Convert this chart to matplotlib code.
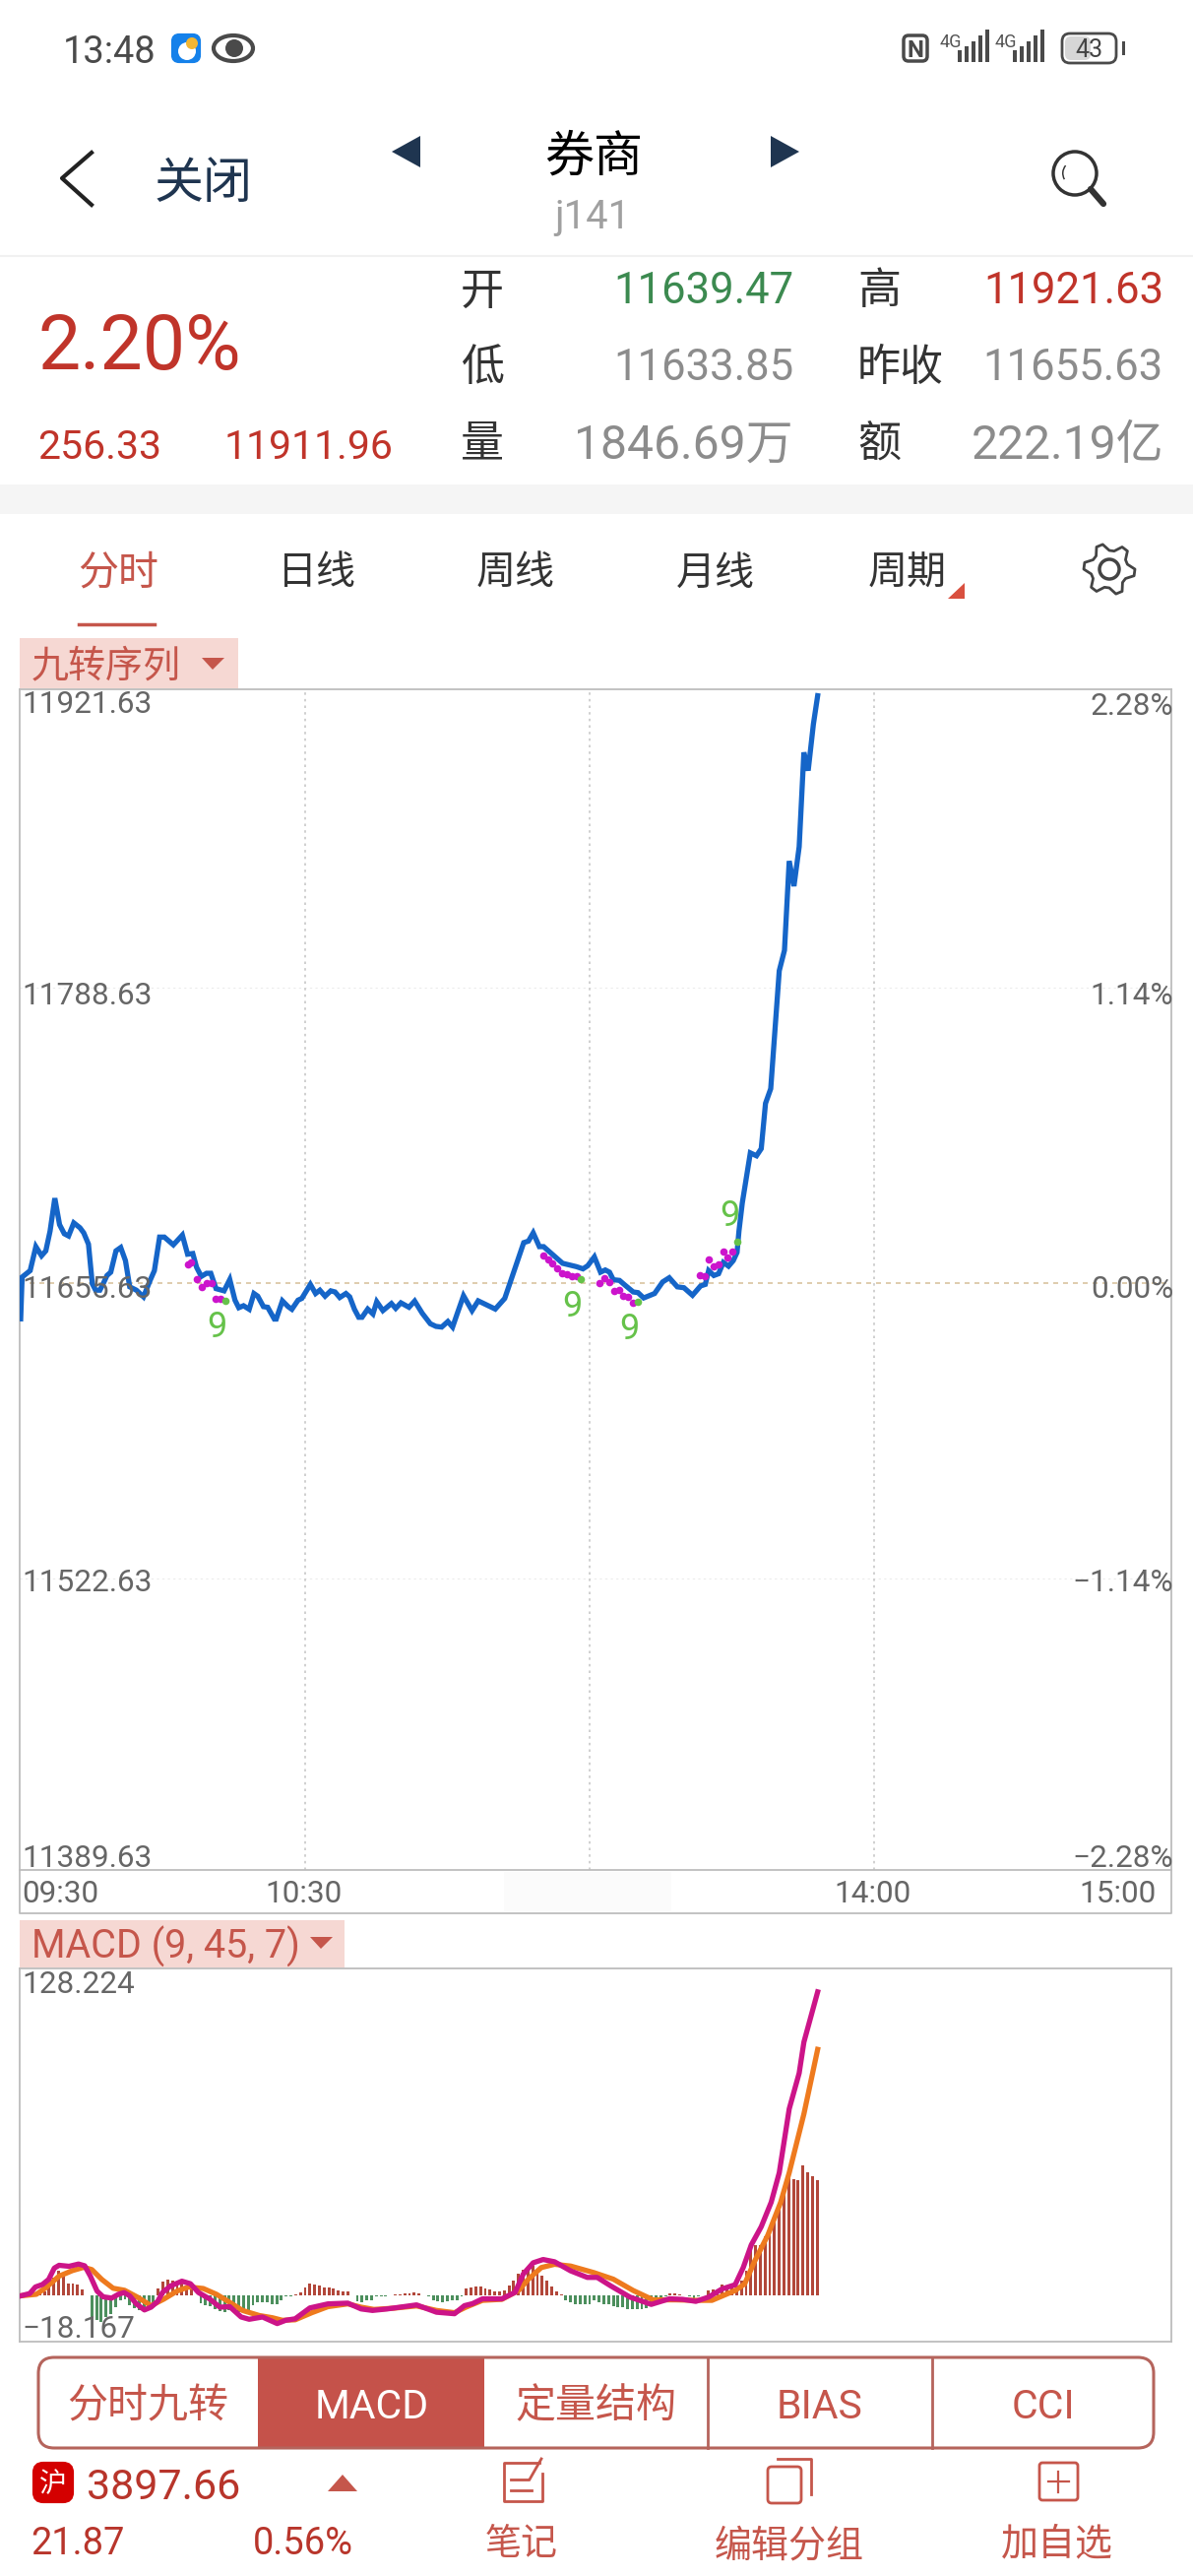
#!/bin/python
import numpy as np
import matplotlib
matplotlib.use("Agg")
import matplotlib.pyplot as plt
from matplotlib.patches import Rectangle, FancyBboxPatch, Polygon, Circle, Wedge, Ellipse

plt.rcParams["font.family"] = ["Roboto", "Noto Sans CJK SC", "DejaVu Sans"]

W, H = 1212, 2616

# minutes since the 09:30 open (trading time, lunch removed)
price_minutes = [0, 0.3, 2, 3.2, 4.4, 5.3, 6.2, 7.2, 8.2, 9.2, 10.1, 11.2, 12.5, 13.3, 14.3, 15.1, 15.8, 16.7, 17.4, 18.2,
	19, 20.1, 21.1, 22.1, 23, 24.4, 25.9, 27.3, 28.2, 29.3, 30.3, 32.2, 34.1, 35.2, 36.3, 37.1, 38.1, 39.2, 40.1, 41.2,
	42.9, 44.1, 45.2, 46, 47, 48.2, 49.2, 50, 51.2, 52.1, 53.5, 53.9, 55.2, 56.4, 57.2, 58.5, 59.3, 61.1, 62.2, 63.1,
	64.2, 65.4, 66.3, 67.3, 68.6, 69.4, 70.4, 71.3, 72, 73.2, 74.3, 75.1, 76.4, 78.2, 79.1, 80.2, 81.9, 83.1, 84.7, 86.4,
	87.6, 88.8, 90.1, 91.1, 92.1, 93.4, 95.2, 96.5, 100.1, 102.1, 106.1, 107.1, 108.1, 109.4, 110.3, 114.3, 117.2, 118.6, 119.6, 121,
	122.3, 123.3, 124.2, 125, 126.3, 127.5, 129.2, 130.2, 131.4, 133.7, 135.4, 136.8, 138.5, 139.9, 141.7, 143.4, 144.4, 145.1, 146.2, 147.2,
	148.2, 149.3, 150.3, 151.1, 151.5, 152.2, 153.9, 155.2, 156.2, 157.1, 158.2, 160, 161.1, 162.1, 163.1, 164.2, 165.2, 166.1, 167.2, 168.1]
price_values = [11639.5, 11658.3, 11661.2, 11672.0, 11667.9, 11670.1, 11679.0, 11693.8, 11681.9, 11677.8, 11676.8, 11682.7, 11680.5, 11678.2, 11673.1, 11655.3, 11652.4, 11652.4, 11655.3, 11659.0,
	11660.5, 11670.1, 11671.6, 11665.7, 11653.9, 11652.4, 11649.4, 11656.8, 11661.2, 11676.3, 11676.3, 11672.8, 11677.2, 11668.6, 11668.9, 11662.7, 11658.6, 11660.0, 11660.0, 11653.1,
	11652.1, 11657.2, 11647.9, 11644.5, 11645.4, 11643.8, 11650.9, 11649.7, 11645.0, 11644.7, 11639.4, 11639.4, 11647.6, 11645.0, 11643.8, 11647.9, 11648.7, 11655.0, 11650.9, 11652.4,
	11649.7, 11652.1, 11651.6, 11649.1, 11650.9, 11649.4, 11643.8, 11640.2, 11640.2, 11643.9, 11641.7, 11647.2, 11643.2, 11646.4, 11644.2, 11646.7, 11644.7, 11647.5, 11642.0, 11637.3,
	11636.1, 11635.8, 11638.3, 11635.8, 11642.0, 11649.9, 11643.2, 11647.6, 11643.9, 11648.7, 11673.8, 11674.5, 11678.2, 11672.0, 11672.0, 11664.5, 11663.0, 11662.0, 11663.4, 11667.4,
	11660.5, 11661.5, 11660.5, 11657.1, 11656.8, 11654.6, 11651.6, 11651.3, 11648.9, 11650.9, 11656.1, 11658.0, 11653.9, 11653.5, 11650.1, 11654.3, 11655.0, 11661.2, 11659.0, 11659.8,
	11664.9, 11663.2, 11665.7, 11669.4, 11679.0, 11691.6, 11714.2, 11712.9, 11716.1, 11736.5, 11743.1, 11796.2, 11805.4, 11845.6, 11834.3, 11852.0, 11894.5, 11886.3, 11907.2, 11920.0]

# nine-turn markers
dot_minutes = [35.2, 36, 37.1, 38.2, 39.2, 40.2, 41.2, 42.2,
	110.2, 111.2, 112.2, 113.2, 114.1, 115.2, 116.2, 117.2,
	122.1, 123.2, 124.1, 125.1, 126.2, 127.1, 128.2, 129.1,
	143.2, 144.2, 145.1, 146.2, 147.2, 148.2, 149.1, 150.2]
dot_values = [11663.8, 11664.9, 11657.3, 11653.9, 11655.8, 11655.8, 11648.7, 11648.4,
	11668.2, 11666.4, 11664.6, 11662.4, 11660.0, 11659.8, 11658.9, 11658.9,
	11655.6, 11657.8, 11656.2, 11652.1, 11652.4, 11649.9, 11649.4, 11646.9,
	11659.2, 11658.9, 11666.1, 11663.0, 11663.9, 11669.9, 11667.2, 11669.9]
nine_dot_minutes = [43.1, 118.2, 130.2, 151.1]
nine_dot_values = [11647.5, 11657.4, 11647.2, 11674.4]
nine_label_minutes = [41.4, 116.3, 128.4, 149.5]
nine_label_values = [11635.7, 11645.0, 11634.9, 11685.9]

prev_close = 11655.63
price_levels = [11921.63, 11788.63, 11655.63, 11522.63, 11389.63]
price_labels = ["11921.63", "11788.63", "11655.63", "11522.63", "11389.63"]
pct_labels = ["2.28%", "1.14%", "0.00%", "−1.14%", "−2.28%"]
time_ticks = [60, 120, 180]

diff_minutes = [0, 1.9, 3.1, 4.6, 5.9, 7.1, 8.1, 10.2, 12.2, 13.5, 14.7, 16.1, 17.4, 19.2, 20.6, 21.8, 23, 24.4, 26.1, 27.5,
	28.9, 29.9, 31.6, 34, 35.8, 37.5, 39.9, 42, 44.1, 46.5, 48.2, 51, 54.1, 55.9, 57.9, 61, 64.8, 69, 71.8, 74.2,
	77.3, 80.8, 83.5, 87.7, 91.5, 93.6, 95.3, 97.4, 101.5, 104.3, 106, 108.1, 110.2, 112.6, 116, 119.5, 121.6, 124.4, 128.5, 133,
	136.8, 139.6, 142.4, 145.1, 147.9, 150.7, 152.4, 154.1, 156.2, 158.3, 160, 162.1, 164.2, 165.2, 168.1]
diff_values = [0, 0.9, 3.5, 4.5, 6.5, 11.0, 12.1, 11.7, 12.6, 11.9, 7.8, 1.9, -0.4, -0.9, 0.6, 1.3, 0, -3.2, -5.6, -4.5,
	-2.2, 1.3, 3.9, 5.8, 4.8, 1.3, -1.3, -4.5, -4.3, -8.4, -9.3, -8.4, -11.0, -9.7, -9.1, -4.8, -3.2, -2.9, -5.2, -5.8,
	-5.2, -4.3, -3.6, -6.5, -7.1, -3.9, -3.1, -1.2, -1.2, 1.4, 8.6, 13.1, 14.4, 13.5, 9.9, 7.3, 7.3, 4.0, -0.5, -3.4,
	-1.2, -1.4, -2.2, -0.5, 2.7, 4.4, 11.2, 20.2, 27.4, 37.1, 48.8, 74.1, 88.3, 100.6, 120.5]

dea_minutes = [0, 3.3, 5.3, 8.1, 10.9, 13.3, 15, 17.1, 19.5, 21.9, 24.7, 27.5, 30.2, 33, 35.4, 38.5, 41.3, 44.1, 46.8, 50.3,
	53.1, 55.2, 57.9, 61.4, 64.8, 69, 71.8, 74.5, 78.7, 83.5, 87.7, 91.5, 93.9, 97.4, 101.5, 105, 107.1, 109.8, 112.6, 116,
	120.9, 125, 129.2, 133.4, 138.2, 142.4, 145.8, 150.7, 152.7, 154.8, 157.6, 160.3, 162.1, 165.2, 168.1]
dea_values = [0, 0.6, 3.2, 7.8, 10.0, 11.3, 10.4, 6.5, 3.0, 2.2, -0.6, -3.9, -1.3, 1.9, 3.5, 2.9, 0.6, -2.6, -5.8, -7.8,
	-8.7, -9.7, -9.5, -6.7, -4.3, -3.2, -4.5, -5.4, -4.9, -4.0, -5.8, -6.7, -4.5, -1.8, -1.4, 2.1, 6.6, 11.2, 12.5, 11.8,
	9.2, 6.6, 2.1, -1.6, -1.6, -1.8, -1.8, 2.1, 4.7, 13.7, 24.1, 37.1, 48.8, 72.1, 97.7]

# one bar per minute
hist_values = [0, 0, 0, 0.9, 1.3, 1.9, 3.2, 7.1, 10.0, 7.8, 4.9, 4.8, 4.3, 2.6, 0,
	-8.7, -9.7, -10.4, -8.4, -7.1, -4.5, -1.6, -1.3, -3.9, -4.8, -5.8, -6.5, -4.5, -3.9,
	3.0, 5.8, 6.5, 6.1, 5.8, 5.8, 3.9, 2.6, 0,
	-3.0, -3.9, -4.3, -5.4, -6.1, -6.5, -5.8, -6.5, -6.5, -5.8, -5.8, -3.9, -2.6, -2.6, -2.6, -3.2, -3.2, -1.6, -0.4, -0.1,
	0.6, 1.3, 3.2, 4.8, 4.5, 4.1, 3.5, 3.2, 3.0, 2.2, 1.9, 1.9, 0,
	-2.3, -2.6, -1.9, -1.9, -0.4, -0.3, -0.2,
	0.1, 0.4, 0.6, 1.0, 1.0, 1.4, 0.8, 0,
	-0.4, -1.6, -2.3, -2.6, -2.3, -1.9, -1.9, -0.2,
	3.0, 3.5, 3.6, 3.6, 3.1, 2.5, 1.8, 1.8, 2.1, 4.0, 6.2, 8.6, 10.5, 11.2, 11.8, 9.9, 7.9, 6.0, 3.8, 1.7, 0.4,
	-1.6, -2.5, -3.2, -3.4, -3.4, -3.2, -1.8, -2.7, -3.2, -3.2, -4.2, -4.4, -4.4, -5.1, -5.3, -5.3, -5.3, -4.8, -3.4, -1.2, -1.2, -0.1,
	1.0, 0.8, 0.4, 0.2, -0.3, -0.9, -0.3, 0.2,
	2.3, 2.6, 2.6, 4.3, 4.0, 4.0, 4.0, 6.2, 9.9, 20.5, 20.2, 20.2, 23.5, 26.1, 30.6, 34.5, 41.0, 48.1, 46.4, 45.9, 51.6, 48.8, 47.5, 45.8]

RED = "#c0342a"
SOFT_RED = "#c5564b"
GREEN = "#3c8a50"
GRAY = "#8c8c8c"
LABEL_GRAY = "#666666"
DARK = "#333333"
NAVY = "#1f3550"
FRAME = "#bdbdbd"


def fs(px):
	return px * 0.72


def axes_px(left, top, right, bottom):
	return fig.add_axes([left / W, 1 - bottom / H, (right - left) / W, (bottom - top) / H])


fig = plt.figure(figsize=(W / 100, H / 100), dpi=100, facecolor="white")

# page layer, in screen pixels
ui = fig.add_axes([0, 0, 1, 1], zorder=5)
ui.set_xlim(0, W)
ui.set_ylim(H, 0)
ui.axis("off")
ui.patch.set_alpha(0)


def label(x, y, s, size, color=DARK, ha="left", **kw):
	ui.text(x, y, s, fontsize=fs(size), color=color, ha=ha, va="center_baseline", **kw)


# price panel
ax = axes_px(20, 700, 1190, 1899)
ax.plot(price_minutes, price_values, color="#1565c8", lw=3.8, solid_joinstyle="miter", zorder=3)
ax.scatter(dot_minutes, dot_values, s=30, color="#cc14cc", zorder=4, linewidths=0)
ax.scatter(nine_dot_minutes, nine_dot_values, s=30, color="#66c24a", zorder=4, linewidths=0)
for m, v in zip(nine_label_minutes, nine_label_values):
	ax.text(m, v, "9", color="#66c24a", fontsize=fs(36), ha="center", va="center", zorder=4)
ax.axhline(prev_close, color="#d9c3a0", lw=1.2, ls=(0, (3, 3)), zorder=1)
for lvl in (price_levels[1], price_levels[3]):
	ax.axhline(lvl, color="#ececec", lw=0.8, ls=(0, (2, 3)), zorder=1)
for t in time_ticks:
	ax.axvline(t, color="#c8c8c8", lw=1.2, ls=(0, (1.5, 2.5)), zorder=1)
ax.set_xlim(-0.21, 242.7)
ax.set_ylim(11391.4, 11922.9)
ax.set_xticks([])
ax.set_yticks([])
for sp in ax.spines.values():
	sp.set_color(FRAME)
	sp.set_linewidth(1.3)

# MACD panel
ax2 = axes_px(20, 1999, 1190, 2378)
hist = np.array(hist_values)
hist_x = np.arange(len(hist))
ax2.bar(hist_x, hist, width=0.6, color=np.where(hist >= 0, "#b2473a", "#4c8f5d"), zorder=2)
ax2.plot(dea_minutes, dea_values, color="#ee7a1e", lw=3.8, zorder=3)
ax2.plot(diff_minutes, diff_values, color="#cc1488", lw=3.8, zorder=4)
ax2.set_xlim(-0.21, 242.7)
ax2.set_ylim(-18.167, 129.8)
ax2.set_xticks([])
ax2.set_yticks([])
for sp in ax2.spines.values():
	sp.set_color(FRAME)
	sp.set_linewidth(1.3)

# status bar
label(64, 50, "13:48", 38, "#4a4a4a")
ui.add_patch(FancyBboxPatch((176, 36), 26, 26, boxstyle="round,pad=0,rounding_size=6", fc="#1581ea", ec="#1581ea", lw=3))
ui.add_patch(Circle((190, 52), 9, fc="white", ec="none"))
ui.add_patch(Circle((195, 44), 6, fc="#f2b632", ec="none"))
ui.add_patch(Ellipse((237, 49), 40, 26, fc="white", ec="#4a4a4a", lw=3))
ui.add_patch(Circle((238, 49), 9, fc="#4a4a4a", ec="none"))
ui.add_patch(FancyBboxPatch((918, 36), 24, 26, boxstyle="round,pad=0,rounding_size=5", fc="white", ec="#4a4a4a", lw=2.5))
label(930, 49, "N", 24, "#4a4a4a", ha="center", fontweight="bold")
for x0 in (973, 1029):
	label(x0 - 18, 41, "4G", 18, "#555555")
	for i, h in enumerate((12, 16, 21, 27, 33)):
		ui.add_patch(Rectangle((x0 + i * 7, 63 - h), 4, h, fc="#4a4a4a", ec="none"))
ui.add_patch(FancyBboxPatch((1079, 34), 55, 30, boxstyle="round,pad=0,rounding_size=8", fc="white", ec="#4a4a4a", lw=2))
ui.add_patch(FancyBboxPatch((1082, 37), 26, 24, boxstyle="round,pad=0,rounding_size=6", fc="#d6d6d6", ec="none"))
ui.add_patch(Rectangle((1140, 42), 3, 14, fc="#4a4a4a", ec="none"))
label(1106, 49, "43", 25, "#444444", ha="center")

# title row
ui.plot([93, 63, 93], [155, 181, 208], color="#222222", lw=3)
label(157, 182, "关闭", 50, NAVY)
ui.add_patch(Polygon([(427, 138), (427, 170), (398, 154)], closed=True, fc=NAVY, ec="none"))
ui.add_patch(Polygon([(783, 138), (783, 170), (812, 154)], closed=True, fc=NAVY, ec="none"))
label(603, 155, "券商", 50, "black", ha="center")
label(602, 217, "j141", 40, "#a0a0a0", ha="center")
ui.add_patch(Circle((1092, 176), 22, fc="none", ec="#333333", lw=2.5))
ui.plot([1108, 1121], [192, 207], color="#333333", lw=4.5, solid_capstyle="round")
ui.add_patch(Wedge((1092, 176), 13, 150, 220, width=1.5, fc="#333333", ec="none"))
ui.plot([0, W], [260, 260], color="#f1f1f1", lw=1.5)

# quote block
label(38, 345, "2.20%", 77, RED)
label(38, 451, "256.33", 41, RED)
label(228, 451, "11911.96", 41, RED)
for x, y, s in [(468, 292, "开"), (468, 370, "低"), (468, 448, "量"), (871, 292, "高"), (871, 370, "昨收"), (871, 448, "额")]:
	label(x, y, s, 44, DARK)
label(806, 292, "11639.47", 43.6, GREEN, ha="right")
label(806, 370, "11633.85", 43.6, GRAY, ha="right")
label(806, 448, "1846.69万", 48, GRAY, ha="right")
label(1182, 292, "11921.63", 43.6, RED, ha="right")
label(1182, 370, "11655.63", 43.6, GRAY, ha="right")
label(1182, 448, "222.19亿", 48, GRAY, ha="right")
ui.add_patch(Rectangle((0, 492), W, 30, fc="#f5f5f5", ec="none"))

# period tabs
label(120, 578, "分时", 41, SOFT_RED, ha="center")
label(322, 578, "日线", 40, DARK, ha="center")
label(524, 578, "周线", 40, DARK, ha="center")
label(727, 578, "月线", 40, DARK, ha="center")
label(922, 578, "周期", 40, DARK, ha="center")
ui.add_patch(Polygon([(980, 592), (980, 608), (963, 608)], closed=True, fc="#d9503f", ec="none"))
ui.plot([80, 157], [634, 634], color=SOFT_RED, lw=2.5)
ui.add_patch(Circle((1127, 578), 10, fc="none", ec="#444444", lw=2.5))
gear = [(1127 + r * np.cos(a), 578 + r * np.sin(a))
	for a, r in zip(np.radians(np.arange(0, 360, 15)), [26, 26, 19, 19] * 6)]
ui.add_patch(Polygon(gear, closed=True, fc="none", ec="#444444", lw=2, joinstyle="round"))

# panel tags
ui.add_patch(Rectangle((20, 648), 222, 51, fc="#f6d8d3", ec="none"))
label(32, 673, "九转序列", 38, SOFT_RED)
ui.add_patch(Polygon([(205, 668), (228, 668), (216, 680)], closed=True, fc=SOFT_RED, ec="none"))
ui.add_patch(Rectangle((20, 1950), 330, 48, fc="#f6d8d3", ec="none"))
label(32, 1972, "MACD (9, 45, 7)", 39.5, SOFT_RED)
ui.add_patch(Polygon([(315, 1967), (338, 1967), (326, 1979)], closed=True, fc=SOFT_RED, ec="none"))

# axis labels
for y, s in zip((713, 1008, 1307, 1605, 1885), price_labels):
	label(22, y, s, 31.5, LABEL_GRAY)
for y, s in zip((715, 1008, 1307, 1605, 1885), pct_labels):
	label(1192, y, s, 31.5, LABEL_GRAY, ha="right")
ui.plot([20, 20, 1190, 1190], [1899, 1943, 1943, 1899], color=FRAME, lw=1.3)
ui.add_patch(Rectangle((512, 1901), 170, 40, fc="#fbfbfb", ec="none"))
label(22, 1921, "09:30", 31.5, LABEL_GRAY)
label(309, 1921, "10:30", 31.5, LABEL_GRAY, ha="center")
label(887, 1921, "14:00", 31.5, LABEL_GRAY, ha="center")
label(1175, 1921, "15:00", 31.5, LABEL_GRAY, ha="right")
label(22, 2012, "128.224", 31.5, LABEL_GRAY)
label(22, 2363, "−18.167", 31.5, LABEL_GRAY)

# indicator switch
ui.add_patch(Rectangle((262, 2393), 230, 93, fc="#c5524a", ec="none"))
ui.add_patch(FancyBboxPatch((39, 2394), 1133, 92, boxstyle="round,pad=0,rounding_size=16", fc="none", ec="#b5645c", lw=2.2))
for x in (719, 947):
	ui.plot([x, x], [2394, 2486], color="#b5645c", lw=2)
label(150, 2440, "分时九转", 41, SOFT_RED, ha="center")
label(378, 2440, "MACD", 41, "white", ha="center")
label(606, 2440, "定量结构", 41, SOFT_RED, ha="center")
label(833, 2440, "BIAS", 41, SOFT_RED, ha="center")
label(1060, 2440, "CCI", 41, SOFT_RED, ha="center")

# bottom bar
ui.add_patch(FancyBboxPatch((35, 2502), 38, 38, boxstyle="round,pad=0,rounding_size=9", fc="#d40000", ec="#d40000", lw=3))
label(54, 2521, "沪", 28, "white", ha="center")
label(88, 2522, "3897.66", 43, "#b8352b")
ui.add_patch(Polygon([(333, 2530), (363, 2530), (348, 2513)], closed=True, fc=SOFT_RED, ec="none"))
label(31, 2579, "21.87", 38, "#b8352b")
label(257, 2579, "0.56%", 38, "#b8352b")
label(530, 2580, "笔记", 37, SOFT_RED, ha="center")
label(802, 2582, "编辑分组", 38, SOFT_RED, ha="center")
label(1074, 2580, "加自选", 38, SOFT_RED, ha="center")
# note icon
ui.plot([548, 512, 512, 551, 551], [2501, 2501, 2540, 2540, 2512], color=SOFT_RED, lw=2)
ui.plot([519, 536], [2518, 2518], color=SOFT_RED, lw=2)
ui.plot([519, 540], [2529, 2529], color=SOFT_RED, lw=2)
ui.plot([538, 550], [2518, 2497], color=SOFT_RED, lw=2)
# group icon
ui.add_patch(FancyBboxPatch((780, 2505), 34, 37, boxstyle="round,pad=0,rounding_size=4", fc="white", ec=SOFT_RED, lw=2))
ui.plot([790, 824, 824], [2497, 2497, 2533], color=SOFT_RED, lw=2)
# plus icon
ui.add_patch(FancyBboxPatch((1056, 2501), 39, 38, boxstyle="round,pad=0,rounding_size=3", fc="none", ec=SOFT_RED, lw=2))
ui.plot([1065, 1086], [2520, 2520], color=SOFT_RED, lw=1.6)
ui.plot([1075, 1075], [2510, 2531], color=SOFT_RED, lw=1.6)

fig.savefig("out.png", dpi=100)
